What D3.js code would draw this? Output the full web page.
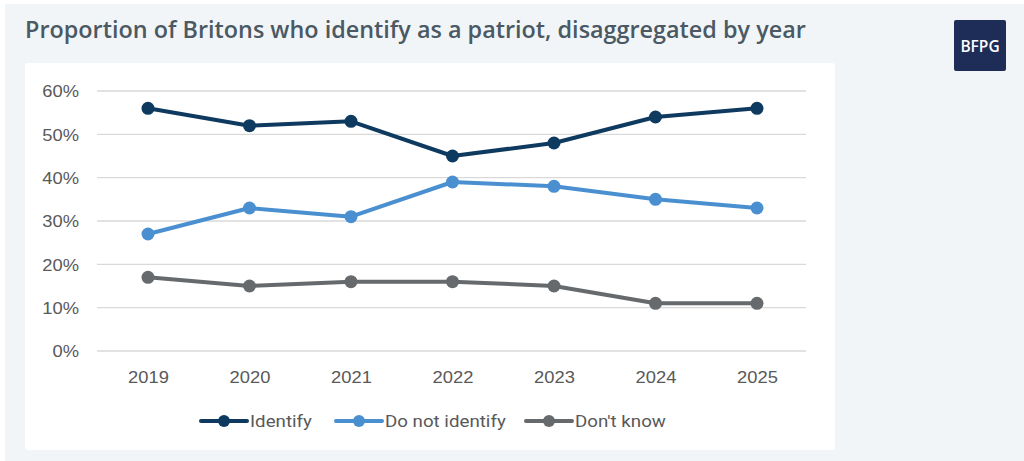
<!DOCTYPE html>
<html>
<head>
<meta charset="utf-8">
<script src="https://cdn.jsdelivr.net/npm/d3@7"></script>
<style>
  html, body { margin: 0; padding: 0; background: #ffffff; }
  svg { display: block; }
</style>
</head>
<body>
<svg id="chart" width="1024" height="461"></svg>
<script>
const years = ["2019", "2020", "2021", "2022", "2023", "2024", "2025"];
const identify = [56, 52, 53, 45, 48, 54, 56];
const doNotIdentify = [27, 33, 31, 39, 38, 35, 33];
const dontKnow = [17, 15, 16, 16, 15, 11, 11];
const yTicks = [0, 10, 20, 30, 40, 50, 60];
const seriesNames = ["Identify", "Do not identify", "Don't know"];
const seriesColors = ["#0f3a5f", "#4a90d0", "#666a6d"];

const series = [identify, doNotIdentify, dontKnow].map((vals, i) => ({
  name: seriesNames[i], color: seriesColors[i],
  values: vals.map((v, j) => ({ year: years[j], value: v }))
}));

const svg = d3.select("#chart");

// page background
svg.append("rect").attr("x", 5).attr("y", 4).attr("width", 1019).attr("height", 457).attr("fill", "#f2f5f8");

// title
svg.append("text").attr("x", 25).attr("y", 38)
  .attr("font-family", "Open Sans").attr("font-weight", 600).attr("font-size", 23.4)
  .attr("fill", "#4a5963")
  .text("Proportion of Britons who identify as a patriot, disaggregated by year");

// logo
svg.append("rect").attr("x", 954).attr("y", 20).attr("width", 52).attr("height", 51).attr("rx", 2).attr("fill", "#1d2d57");
svg.append("text").attr("x", 980).attr("y", 51.5).attr("text-anchor", "middle")
  .attr("font-family", "Open Sans").attr("font-weight", 600).attr("font-size", 15.5).attr("fill", "#ffffff").text("BFPG");

// white chart panel
svg.append("rect").attr("x", 25).attr("y", 63).attr("width", 810).attr("height", 387).attr("rx", 3).attr("fill", "#ffffff");

const x = d3.scalePoint().domain(years).range([148, 757]);
const y = d3.scaleLinear().domain([0, 60]).range([351, 91]);

// gridlines
svg.append("g").selectAll("line").data(yTicks).join("line")
  .attr("x1", 97).attr("x2", 806)
  .attr("y1", d => y(d)).attr("y2", d => y(d))
  .attr("stroke", "#d9d9d9").attr("stroke-width", 1.3);

// y axis
const yAxis = svg.append("g").attr("transform", "translate(97,0)")
  .call(d3.axisLeft(y).tickValues(yTicks).tickFormat(d => d + "%").tickSize(0).tickPadding(18));
yAxis.select(".domain").remove();
yAxis.selectAll(".tick text")
  .attr("x", null).attr("dy", null)
  .attr("font-family", "Liberation Sans, Arial").attr("font-size", 17).attr("fill", "#595959")
  .attr("text-anchor", "end").attr("dominant-baseline", "central")
  .attr("transform", "translate(-18,0) scale(1.08,1)");

// x axis
const xAxis = svg.append("g").attr("transform", "translate(0,351)")
  .call(d3.axisBottom(x).tickSize(0).tickPadding(19));
xAxis.select(".domain").remove();
xAxis.selectAll(".tick text")
  .attr("y", null).attr("dy", null)
  .attr("font-family", "Liberation Sans, Arial").attr("font-size", 17).attr("fill", "#595959")
  .attr("transform", "translate(0,32) scale(1.08,1)");

// lines
const line = d3.line().x(d => x(d.year)).y(d => y(d.value));
const g = svg.append("g");
series.forEach(s => {
  g.append("path").datum(s.values).attr("d", line)
    .attr("fill", "none").attr("stroke", s.color).attr("stroke-width", 4).attr("stroke-linejoin", "round");
  g.selectAll(null).data(s.values).join("circle")
    .attr("cx", d => x(d.year)).attr("cy", d => y(d.value)).attr("r", 6.5).attr("fill", s.color);
});

// legend
const legendX = [201, 336, 526];
const lg = svg.append("g");
series.forEach((s, i) => {
  const lx = legendX[i], ly = 421;
  lg.append("line").attr("x1", lx).attr("x2", lx + 46).attr("y1", ly).attr("y2", ly)
    .attr("stroke", s.color).attr("stroke-width", 4).attr("stroke-linecap", "round");
  lg.append("circle").attr("cx", lx + 23).attr("cy", ly).attr("r", 6).attr("fill", s.color);
  lg.append("text")
    .attr("transform", `translate(${lx + 49},${ly + 6}) scale(1.17,1)`)
    .attr("font-family", "Roboto").attr("font-size", 16).attr("fill", "#595959").text(s.name);
});
</script>
</body>
</html>
